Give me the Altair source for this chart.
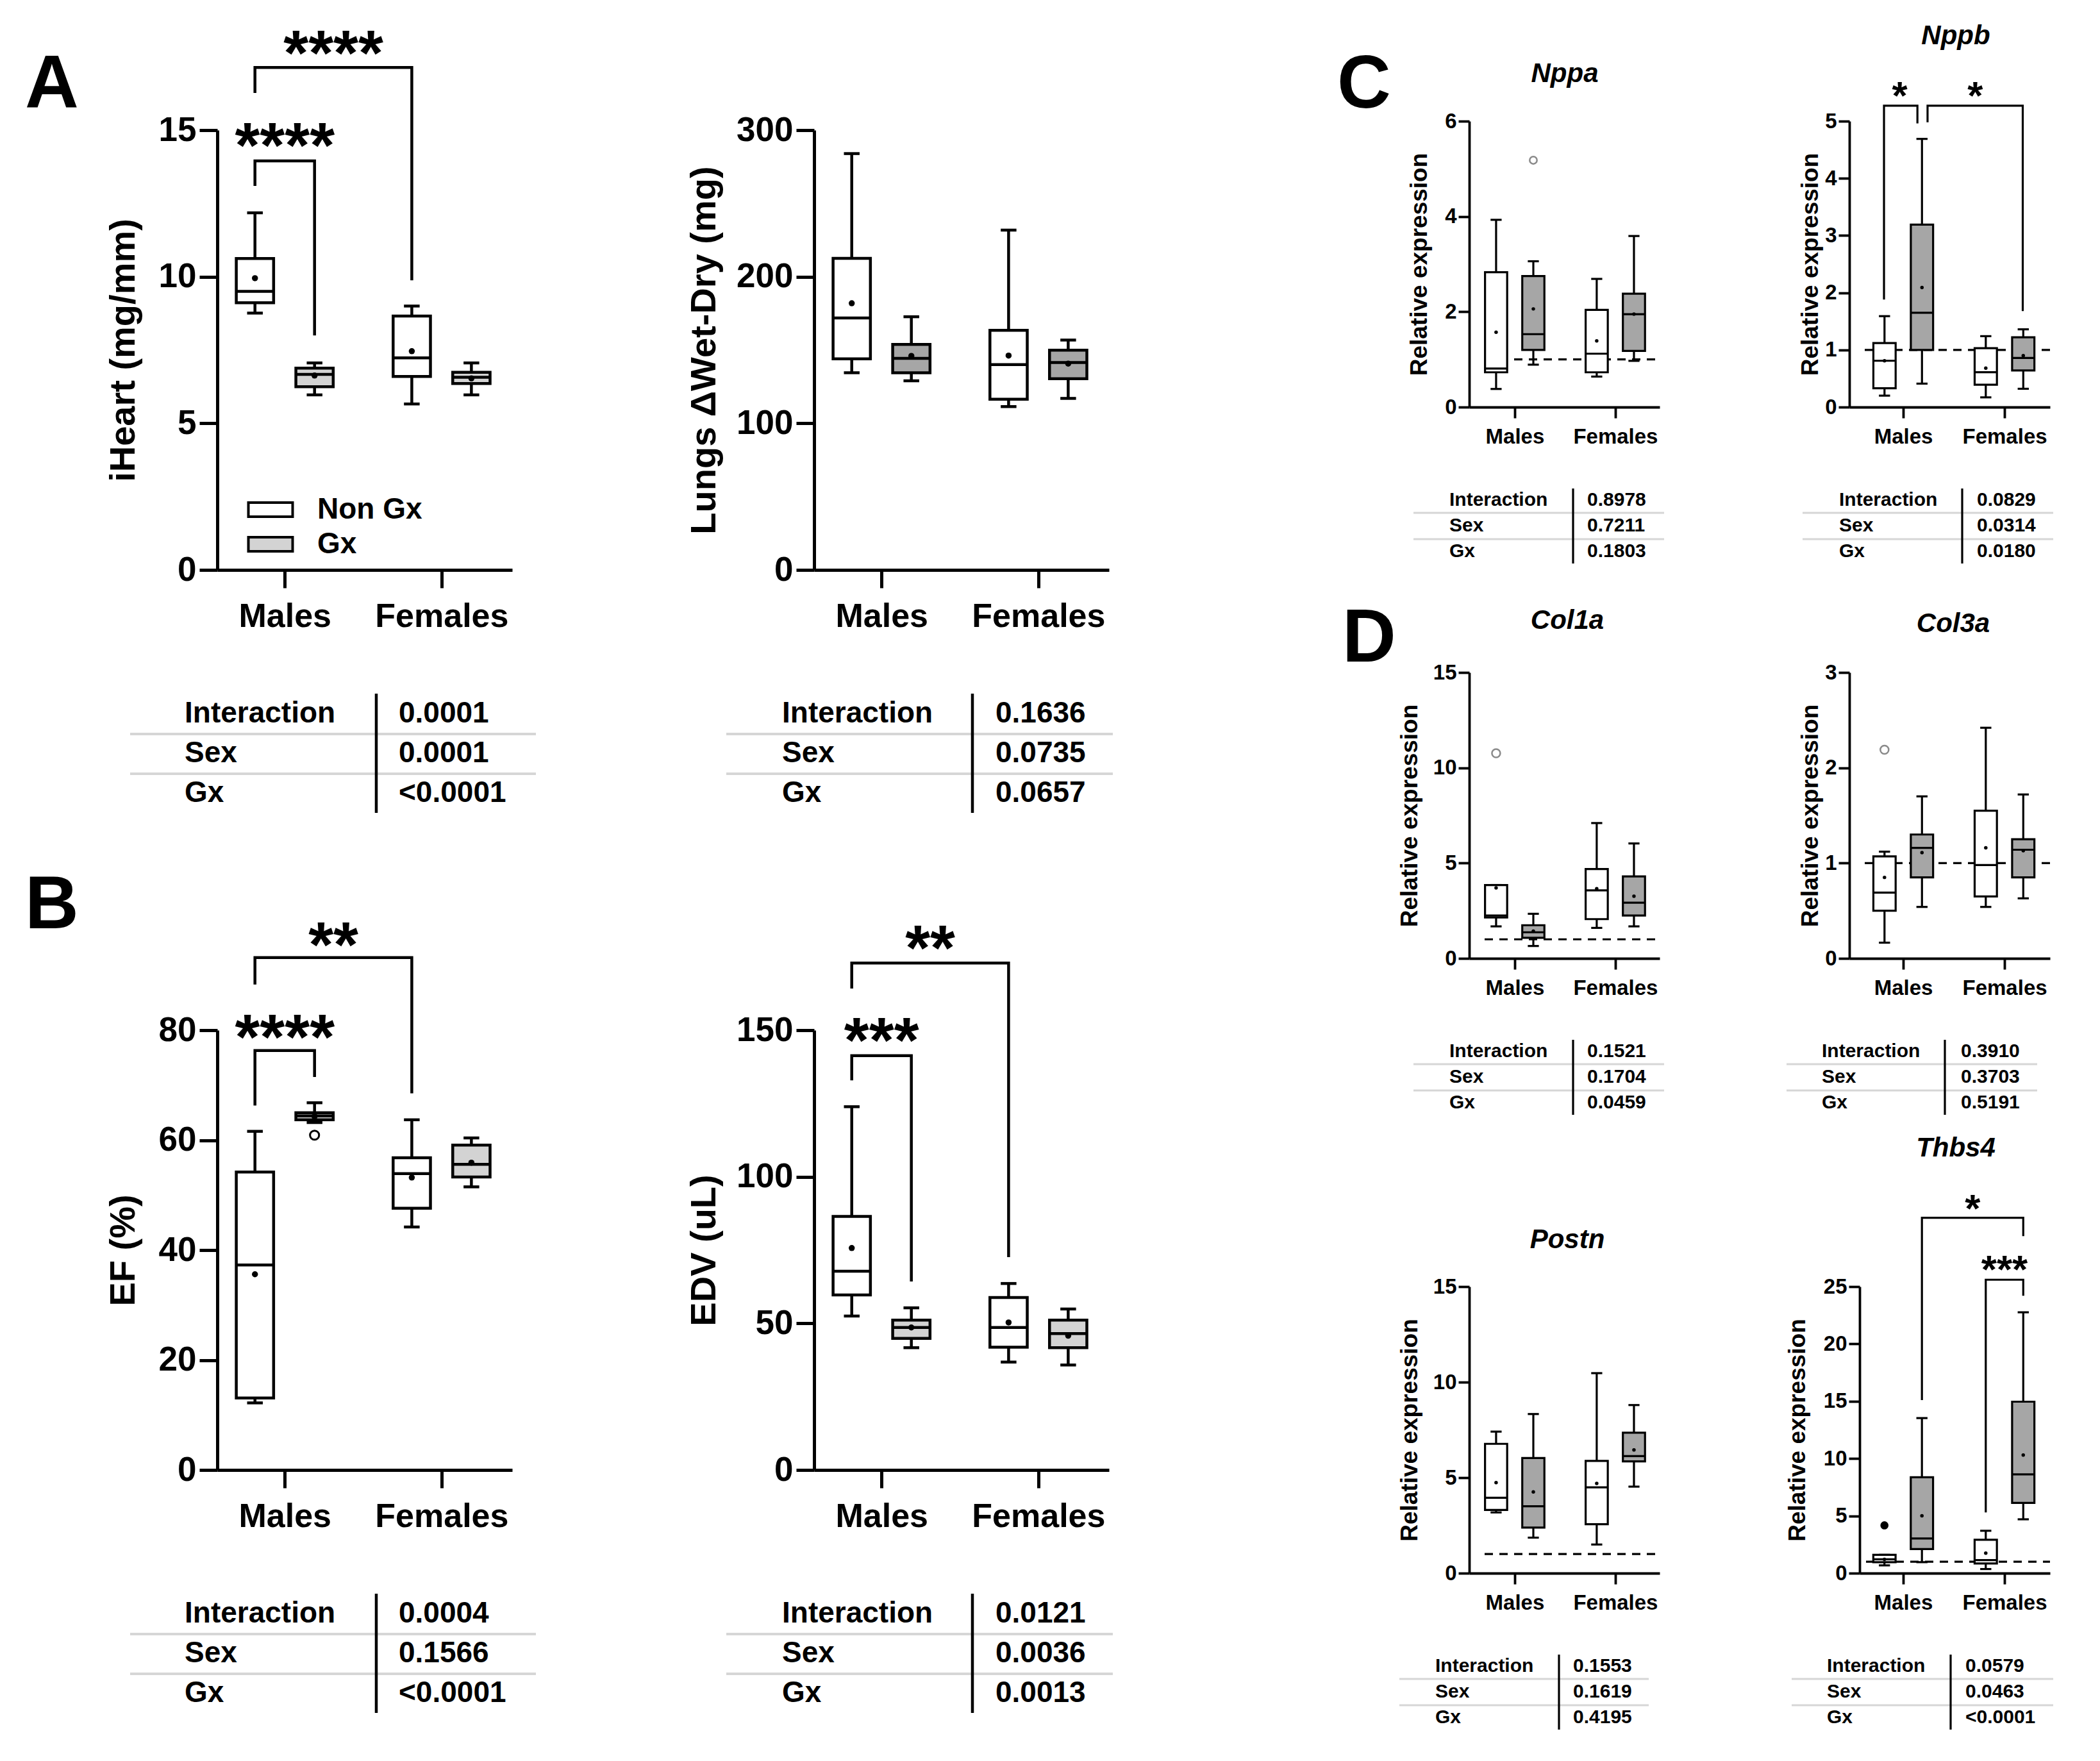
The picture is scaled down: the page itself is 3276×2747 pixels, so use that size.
import altair as alt
import pandas as pd

FONT = "Liberation Sans"

# ---------------- shared categories ----------------
sexes = ["Males", "Females"]
groups = ["Non Gx", "Gx"]
box_sex = ["Males", "Males", "Females", "Females"]
box_group = ["Non Gx", "Gx", "Non Gx", "Gx"]
stat_rows = ["Interaction", "Sex", "Gx"]
ref_level = 1.0

# ---------------- A: iHeart ----------------
iheart_lo = [8.76, 5.97, 5.66, 5.97]
iheart_q1 = [9.11, 6.25, 6.60, 6.36]
iheart_med = [9.50, 6.67, 7.23, 6.57]
iheart_q3 = [10.62, 6.88, 8.66, 6.74]
iheart_hi = [12.18, 7.06, 9.00, 7.06]
iheart_mean = [9.95, 6.63, 7.46, 6.53]
iheart_out = []
iheart_brackets = [(0.81, 1.19, 13.1, 13.95, 8.0, "****", 1.0, 14.95),
                   (0.81, 1.81, 16.27, 17.14, 9.88, "****", 1.31, 18.1)]
iheart_p = ["0.0001", "0.0001", "<0.0001"]

# ---------------- A: Lungs ----------------
lungs_lo = [134.5, 129.0, 111.4, 117.0]
lungs_q1 = [144.0, 134.5, 116.4, 130.4]
lungs_med = [171.9, 144.3, 140.1, 141.5]
lungs_q3 = [212.5, 153.8, 163.5, 149.9]
lungs_hi = [284.0, 172.7, 231.8, 156.8]
lungs_mean = [181.9, 146.0, 146.2, 140.7]
lungs_out = []
lungs_brackets = []
lungs_p = ["0.1636", "0.0735", "0.0657"]

# ---------------- B: EF ----------------
ef_lo = [12.2, 63.2, 44.2, 51.5]
ef_q1 = [13.1, 63.7, 47.6, 53.3]
ef_med = [37.3, 64.4, 53.9, 55.6]
ef_q3 = [54.2, 65.0, 56.8, 59.1]
ef_hi = [61.6, 66.8, 63.7, 60.4]
ef_mean = [35.6, 64.3, 53.2, 55.9]
ef_out = [("Males", "Gx", 60.9)]
ef_brackets = [(0.81, 1.19, 66.3, 76.3, 71.5, "****", 1.0, 81.3),
               (0.81, 1.81, 88.3, 93.2, 68.5, "**", 1.31, 98.1)]
ef_p = ["0.0004", "0.1566", "<0.0001"]

# ---------------- B: EDV ----------------
edv_lo = [52.5, 41.7, 36.8, 35.8]
edv_q1 = [59.7, 44.9, 41.9, 41.7]
edv_med = [67.8, 48.6, 48.6, 46.5]
edv_q3 = [86.5, 51.1, 58.8, 51.1]
edv_hi = [123.9, 55.3, 63.6, 54.9]
edv_mean = [75.7, 48.6, 50.3, 45.8]
edv_out = []
edv_brackets = [(0.81, 1.19, 132.9, 141.3, 64.3, "***", 1.0, 151.4),
                (0.81, 1.81, 164.2, 172.9, 72.6, "**", 1.31, 182.9)]
edv_p = ["0.0121", "0.0036", "0.0013"]

# ---------------- C: Nppa ----------------
nppa_lo = [0.38, 0.89, 0.64, 0.97]
nppa_q1 = [0.73, 1.20, 0.73, 1.18]
nppa_med = [0.81, 1.53, 1.12, 1.95]
nppa_q3 = [2.83, 2.75, 2.04, 2.38]
nppa_hi = [3.93, 3.06, 2.69, 3.59]
nppa_mean = [1.57, 2.06, 1.39, 1.95]
nppa_out = [("Males", "Gx", 5.18)]
nppa_brackets = []
nppa_p = ["0.8978", "0.7211", "0.1803"]

# ---------------- C: Nppb ----------------
nppb_lo = [0.20, 0.41, 0.17, 0.32]
nppb_q1 = [0.33, 1.00, 0.39, 0.64]
nppb_med = [0.81, 1.65, 0.61, 0.86]
nppb_q3 = [1.12, 3.19, 1.03, 1.22]
nppb_hi = [1.59, 4.69, 1.24, 1.36]
nppb_mean = [0.81, 2.09, 0.68, 0.90]
nppb_out = []
nppb_brackets = [(0.81, 1.14, 1.88, 5.27, 4.96, "*", 0.965, 5.61),
                 (1.24, 2.18, 4.98, 5.27, 1.68, "*", 1.71, 5.61)]
nppb_p = ["0.0829", "0.0314", "0.0180"]

# ---------------- D: Col1a ----------------
col1a_lo = [1.68, 0.65, 1.60, 1.68]
col1a_q1 = [2.15, 1.08, 2.06, 2.25]
col1a_med = [2.25, 1.37, 3.57, 2.92]
col1a_q3 = [3.85, 1.74, 4.69, 4.30]
col1a_hi = [3.85, 2.34, 7.10, 6.03]
col1a_mean = [3.70, 1.43, 3.66, 3.26]
col1a_out = [("Males", "Non Gx", 10.76)]
col1a_brackets = []
col1a_p = ["0.1521", "0.1704", "0.0459"]

# ---------------- D: Col3a ----------------
col3a_lo = [0.165, 0.54, 0.54, 0.63]
col3a_q1 = [0.50, 0.85, 0.65, 0.85]
col3a_med = [0.69, 1.16, 0.98, 1.14]
col3a_q3 = [1.07, 1.30, 1.55, 1.25]
col3a_hi = [1.12, 1.70, 2.42, 1.72]
col3a_mean = [0.85, 1.11, 1.16, 1.13]
col3a_out = [("Males", "Non Gx", 2.19)]
col3a_brackets = []
col3a_p = ["0.3910", "0.3703", "0.5191"]

# ---------------- D: Postn ----------------
postn_lo = [3.18, 1.86, 1.50, 4.53]
postn_q1 = [3.31, 2.39, 2.56, 5.85]
postn_med = [3.95, 3.50, 4.49, 6.13]
postn_q3 = [6.77, 6.03, 5.88, 7.35]
postn_hi = [7.41, 8.33, 10.47, 8.80]
postn_mean = [4.74, 4.25, 4.70, 6.45]
postn_out = []
postn_brackets = []
postn_p = ["0.1553", "0.1619", "0.4195"]

# ---------------- D: Thbs4 ----------------
thbs4_lo = [0.68, 0.96, 0.36, 4.70]
thbs4_q1 = [0.96, 2.10, 0.85, 6.13]
thbs4_med = [1.21, 3.03, 1.14, 8.62]
thbs4_q3 = [1.60, 8.37, 2.92, 14.96]
thbs4_hi = [1.60, 13.53, 3.70, 22.76]
thbs4_mean = [1.20, 5.00, 1.75, 10.30]
thbs4_out = [("Males", "Non Gx", 4.17)]
thbs4_brackets = [(1.185, 2.185, 15.1, 31.0, 29.4, "*", 1.685, 32.6),
                  (1.815, 2.185, 5.3, 25.6, 24.2, "***", 2.0, 27.3)]
thbs4_p = ["0.0579", "0.0463", "<0.0001"]

# ---------------- styles ----------------
BIG = dict(sw=4.5, axw=5, tick=28, lab=53, xlab=52, ttl=56, xpad=19, ypad=5,
           hw=0.119, cap=0.05, off=0.19, mean=90, star=100, tfs=46,
           rows_first=224, lh=62, vl=(193, 379), grays=(256, 318), tsw=4.5, gsw=4)
SMALL = dict(sw=3.2, axw=3.8, tick=17, lab=33, xlab=33, ttl=37, xpad=13, ypad=3,
             hw=0.11, cap=0.055, off=0.185, mean=30, star=62, tfs=30,
             rows_first=145, lh=40, vl=(127, 244), grays=(165, 206), tsw=3.2, gsw=3)

LIGHT = "#d3d3d3"
MID = "#a6a6a6"
XDOM_BIG = [0.57, 2.45]
XDOM_C3 = [0.548, 2.44]
XDOM_C4 = [0.468, 2.449]
XDOM_D4 = [0.57, 2.449]


def box_frame(lo, q1, med, q3, hi, mean, st, gray):
    rows = []
    for i in range(4):
        c = sexes.index(box_sex[i]) + 1 + (st["off"] if box_group[i] == "Gx" else -st["off"])
        rows.append(dict(sex=box_sex[i], group=box_group[i], c=c,
                         l=c - st["hw"], r=c + st["hw"], cl=c - st["cap"], cr=c + st["cap"],
                         lo=lo[i], q1=q1[i], med=med[i], q3=q3[i], hi=hi[i], mean=mean[i],
                         fillc=(gray if box_group[i] == "Gx" else "white")))
    return pd.DataFrame(rows)


def panel(cfg):
    st = cfg["style"]
    w, h = cfg["w"], cfg["h"]
    sw = st["sw"]
    xs = alt.Scale(domain=cfg["xdom"], nice=False, zero=False)
    ys = alt.Scale(domain=[0, cfg["ymax"]], nice=False, zero=False)
    lab_expr = f"datum.value == 1 ? '{sexes[0]}' : '{sexes[1]}'"
    xax = alt.Axis(values=[1, 2], labelExpr=lab_expr, title=None, grid=False,
                   domainColor="black", domainWidth=st["axw"], tickColor="black",
                   tickWidth=st["axw"], tickSize=st["tick"], labelFontSize=st["xlab"],
                   labelFontWeight="bold", labelColor="black", labelFont=FONT,
                   labelPadding=st["xpad"], labelFlush=False, labelOverlap=False,
                   labelLimit=1000)
    yax = alt.Axis(values=cfg["yticks"], title=cfg["ytitle"], grid=False,
                   domainColor="black", domainWidth=st["axw"], tickColor="black",
                   tickWidth=st["axw"], tickSize=st["tick"], labelFontSize=st["lab"],
                   labelFontWeight="bold", labelColor="black", labelFont=FONT,
                   labelPadding=st["ypad"], labelOverlap=False, labelLimit=1000,
                   titleFontSize=st["ttl"], titleFontWeight="bold", titleColor="black",
                   titleFont=FONT, titleX=cfg["titleX"], titleY=h / 2,
                   titleBaseline="middle", titleLimit=2000)

    def X(f):
        return alt.X(f"{f}:Q", scale=xs, axis=xax)

    def Y(f):
        return alt.Y(f"{f}:Q", scale=ys, axis=yax)

    d = cfg["data"]
    boxes = box_frame(*d, st, cfg["gray"])
    base = alt.Chart(boxes)
    one = pd.DataFrame({"k": [0]})
    layers = []

    if cfg.get("ref"):
        refdf = pd.DataFrame({"y": [ref_level]})
        layers.append(alt.Chart(refdf).mark_rule(color="black", strokeWidth=sw, strokeDash=[13, 10])
                      .encode(x=alt.value(cfg.get("ref_x0", 24)), x2=alt.value(w), y=Y("y")))

    rule = dict(color="black", strokeWidth=sw)
    layers.append(base.mark_rule(**rule).encode(x=X("c"), y=Y("q3"), y2="hi"))
    layers.append(base.mark_rule(**rule).encode(x=X("c"), y=Y("lo"), y2="q1"))
    layers.append(base.mark_rule(**rule).encode(x=X("cl"), x2="cr", y=Y("hi")))
    layers.append(base.mark_rule(**rule).encode(x=X("cl"), x2="cr", y=Y("lo")))

    if cfg.get("legend"):
        fill = alt.Fill("group:N", scale=alt.Scale(domain=groups, range=["white", cfg["gray"]]),
                        legend=alt.Legend(title=None, orient="none", legendX=60, legendY=569,
                                          direction="vertical",
                                          symbolType="M-2.3,-0.73H2.3V0.73H-2.3Z",
                                          symbolSize=900, symbolStrokeColor="black",
                                          symbolStrokeWidth=4, symbolOpacity=1,
                                          labelFontSize=46, labelFont=FONT,
                                          labelFontWeight="bold", labelColor="black",
                                          labelOffset=50, rowPadding=8, padding=0,
                                          labelLimit=500))
    else:
        fill = alt.Fill("fillc:N", scale=None)
    layers.append(base.mark_rect(stroke="black", strokeWidth=sw, opacity=1)
                  .encode(x=X("l"), x2="r", y=Y("q1"), y2="q3", fill=fill))
    layers.append(base.mark_rule(**rule).encode(x=X("l"), x2="r", y=Y("med")))
    layers.append(base.mark_point(shape="circle", filled=True, color="black", size=st["mean"], opacity=1)
                  .encode(x=X("c"), y=Y("mean")))

    if cfg["out"]:
        orows = []
        for (sx, gp, v) in cfg["out"]:
            c = sexes.index(sx) + 1 + (st["off"] if gp == "Gx" else -st["off"])
            orows.append(dict(c=c, v=v))
        odf = pd.DataFrame(orows)
        os_ = cfg["out_style"]
        layers.append(alt.Chart(odf).mark_point(shape="circle", filled=os_["filled"], color=os_["color"],
                                                size=os_["size"], strokeWidth=os_["sw"], opacity=1)
                      .encode(x=X("c"), y=Y("v")))

    if cfg["brackets"]:
        brows = []
        for i, (x1, x2, yl, yt, yr, lab, lx, ly) in enumerate(cfg["brackets"]):
            brows += [dict(id=i, k=0, x=x1, y=yl), dict(id=i, k=1, x=x1, y=yt),
                      dict(id=i, k=2, x=x2, y=yt), dict(id=i, k=3, x=x2, y=yr)]
        bdf = pd.DataFrame(brows)
        layers.append(alt.Chart(bdf).mark_line(color="black", strokeWidth=sw, strokeJoin="miter",
                                               strokeCap="butt")
                      .encode(x=X("x"), y=Y("y"), detail="id:N", order="k:Q"))
        sdf = pd.DataFrame([dict(lx=b[6], ly=b[7], lab=b[5]) for b in cfg["brackets"]])
        layers.append(alt.Chart(sdf).mark_text(fontSize=st["star"], fontWeight="bold",
                                               dy=0.26 * st["star"], baseline="middle",
                                               align="center", color="black")
                      .encode(x=X("lx"), y=Y("ly"), text="lab:N"))

    # statistics table below the panel
    tp = cfg["tpos"]
    for gy in st["grays"]:
        layers.append(alt.Chart(one).mark_rule(color="#d6d6d6", strokeWidth=st["gsw"])
                      .encode(x=alt.value(tp[3]), x2=alt.value(tp[4]), y=alt.value(h + gy)))
    layers.append(alt.Chart(one).mark_rule(color="black", strokeWidth=st["tsw"])
                  .encode(x=alt.value(tp[2]), y=alt.value(h + st["vl"][0]), y2=alt.value(h + st["vl"][1])))
    layers.append(alt.Chart(one).mark_text(text=stat_rows, align="left", baseline="middle",
                                           fontSize=st["tfs"], fontWeight="bold",
                                           lineHeight=st["lh"], color="black")
                  .encode(x=alt.value(tp[0]), y=alt.value(h + st["rows_first"])))
    layers.append(alt.Chart(one).mark_text(text=cfg["pvals"], align="left", baseline="middle",
                                           fontSize=st["tfs"], fontWeight="bold",
                                           lineHeight=st["lh"], color="black")
                  .encode(x=alt.value(tp[1]), y=alt.value(h + st["rows_first"])))

    if cfg.get("title"):
        layers.append(alt.Chart(one).mark_text(text=cfg["title"], fontSize=42, fontWeight="bold",
                                               fontStyle="italic", align="center",
                                               baseline="middle", color="black")
                      .encode(x=alt.value(cfg["title_pos"][0]), y=alt.value(cfg["title_pos"][1])))
    if cfg.get("letter"):
        layers.append(alt.Chart(one).mark_text(text=cfg["letter"], fontSize=116, fontWeight="bold",
                                               align="center", baseline="middle", color="black")
                      .encode(x=alt.value(cfg["letter_pos"][0]), y=alt.value(cfg["letter_pos"][1])))
    if cfg.get("anchor"):
        ax_, ay_ = cfg["anchor"]
        layers.append(alt.Chart(one).mark_rule(strokeOpacity=0, strokeWidth=1)
                      .encode(x=alt.value(ax_), x2=alt.value(ax_ + 1), y=alt.value(ay_)))

    return alt.layer(*layers).properties(width=w, height=h)


def spacer(w, h):
    one = pd.DataFrame({"k": [0]})
    return alt.Chart(one).mark_rule(strokeOpacity=0).encode(
        x=alt.value(0), y=alt.value(0), y2=alt.value(1)).properties(width=w, height=h)


def vc(*charts, spacing):
    return alt.vconcat(*charts, spacing=spacing, bounds="flush").resolve_scale(fill="independent")


def hc(*charts, spacing):
    return alt.hconcat(*charts, spacing=spacing, bounds="flush").resolve_scale(fill="independent")


OUT_GRAY = dict(filled=False, color="#8a8a8a", size=130, sw=2.5)

A1 = panel(dict(style=BIG, w=460, h=686, xdom=XDOM_BIG, ymax=15, yticks=[0, 5, 10, 15],
                ytitle="iHeart (mg/mm)", titleX=-147, gray=LIGHT,
                data=(iheart_lo, iheart_q1, iheart_med, iheart_q3, iheart_hi, iheart_mean),
                out=iheart_out, brackets=iheart_brackets, pvals=iheart_p,
                tpos=(-51, 283, 248, -136, 497), legend=True,
                letter="A", letter_pos=(-258, -70), anchor=(-331, -195)))
A2 = panel(dict(style=BIG, w=460, h=686, xdom=XDOM_BIG, ymax=300, yticks=[0, 100, 200, 300],
                ytitle="Lungs \u0394Wet-Dry (mg)", titleX=-172, gray=MID,
                data=(lungs_lo, lungs_q1, lungs_med, lungs_q3, lungs_hi, lungs_mean),
                out=lungs_out, brackets=lungs_brackets, pvals=lungs_p,
                tpos=(-50, 283, 247, -137, 466)))
B1 = panel(dict(style=BIG, w=460, h=686, xdom=XDOM_BIG, ymax=80, yticks=[0, 20, 40, 60, 80],
                ytitle="EF (%)", titleX=-147, gray=LIGHT,
                data=(ef_lo, ef_q1, ef_med, ef_q3, ef_hi, ef_mean),
                out=ef_out, out_style=dict(filled=False, color="black", size=200, sw=3),
                brackets=ef_brackets, pvals=ef_p,
                tpos=(-51, 283, 248, -136, 497), letter="B", letter_pos=(-258, -194)))
B2 = panel(dict(style=BIG, w=460, h=686, xdom=XDOM_BIG, ymax=150, yticks=[0, 50, 100, 150],
                ytitle="EDV (uL)", titleX=-172, gray=LIGHT,
                data=(edv_lo, edv_q1, edv_med, edv_q3, edv_hi, edv_mean),
                out=edv_out, brackets=edv_brackets, pvals=edv_p,
                tpos=(-50, 283, 247, -137, 466)))

C1 = panel(dict(style=SMALL, w=297, h=446, xdom=XDOM_C3, ymax=6, yticks=[0, 2, 4, 6],
                ytitle="Relative expression", titleX=-78, gray=MID, ref=True,
                data=(nppa_lo, nppa_q1, nppa_med, nppa_q3, nppa_hi, nppa_mean),
                out=nppa_out, out_style=OUT_GRAY, brackets=nppa_brackets, pvals=nppa_p,
                tpos=(-31, 184, 162, -87, 304), title="Nppa", title_pos=(149, -74),
                letter="C", letter_pos=(-164, -56)))
C2 = panel(dict(style=SMALL, w=313, h=446, xdom=XDOM_C4, ymax=5, yticks=[0, 1, 2, 3, 4, 5],
                ytitle="Relative expression", titleX=-61, gray=MID, ref=True,
                data=(nppb_lo, nppb_q1, nppb_med, nppb_q3, nppb_hi, nppb_mean),
                out=nppb_out, brackets=nppb_brackets, pvals=nppb_p,
                tpos=(-16, 199, 176, -73, 318), title="Nppb", title_pos=(166, -133)))
D1 = panel(dict(style=SMALL, w=297, h=446, xdom=XDOM_C3, ymax=15, yticks=[0, 5, 10, 15],
                ytitle="Relative expression", titleX=-93, gray=MID, ref=True,
                data=(col1a_lo, col1a_q1, col1a_med, col1a_q3, col1a_hi, col1a_mean),
                out=col1a_out, out_style=dict(filled=False, color="#8a8a8a", size=170, sw=2.5),
                brackets=col1a_brackets, pvals=col1a_p,
                tpos=(-31, 184, 162, -87, 304), title="Col1a", title_pos=(153, -81),
                letter="D", letter_pos=(-156, -52)))
D2 = panel(dict(style=SMALL, w=313, h=446, xdom=XDOM_C4, ymax=3, yticks=[0, 1, 2, 3],
                ytitle="Relative expression", titleX=-61, gray=MID, ref=True,
                data=(col3a_lo, col3a_q1, col3a_med, col3a_q3, col3a_hi, col3a_mean),
                out=col3a_out, out_style=dict(filled=False, color="#8a8a8a", size=170, sw=2.5),
                brackets=col3a_brackets, pvals=col3a_p,
                tpos=(-43, 174, 149, -98, 293), title="Col3a", title_pos=(162, -76)))
D3 = panel(dict(style=SMALL, w=297, h=447, xdom=XDOM_C3, ymax=15, yticks=[0, 5, 10, 15],
                ytitle="Relative expression", titleX=-93, gray=MID, ref=True,
                data=(postn_lo, postn_q1, postn_med, postn_q3, postn_hi, postn_mean),
                out=postn_out, brackets=postn_brackets, pvals=postn_p,
                tpos=(-53, 162, 140, -109, 280), title="Postn", title_pos=(153, -73)))
D4 = panel(dict(style=SMALL, w=297, h=447, xdom=XDOM_D4, ymax=25, yticks=[0, 5, 10, 15, 20, 25],
                ytitle="Relative expression", titleX=-97, gray=MID, ref=True, ref_x0=10,
                data=(thbs4_lo, thbs4_q1, thbs4_med, thbs4_q3, thbs4_hi, thbs4_mean),
                out=thbs4_out, out_style=dict(filled=True, color="black", size=160, sw=1),
                brackets=thbs4_brackets, pvals=thbs4_p,
                tpos=(-51, 165, 142, -106, 302), title="Thbs4", title_pos=(150, -216)))

# With flush bounds a nested concat contributes no width of its own, so the
# horizontal spacing below is the full offset between the left edges.
col1 = vc(A1, B1, spacing=718)
col2 = vc(A2, B2, spacing=718)
left = vc(spacer(1, 14), hc(col1, col2, spacing=931), spacing=0)
col3 = vc(C1, vc(D1, D3, spacing=512), spacing=414)
col4 = vc(C2, vc(D2, hc(spacer(1, 1), D4, spacing=15), spacing=512), spacing=414)
right = hc(col3, col4, spacing=593)

chart = hc(left, right, spacing=1953).properties(padding=0).configure(
    font=FONT, background="white").configure_view(stroke=None)

chart.save("out.html", embed_options={"renderer": "svg", "actions": False})
